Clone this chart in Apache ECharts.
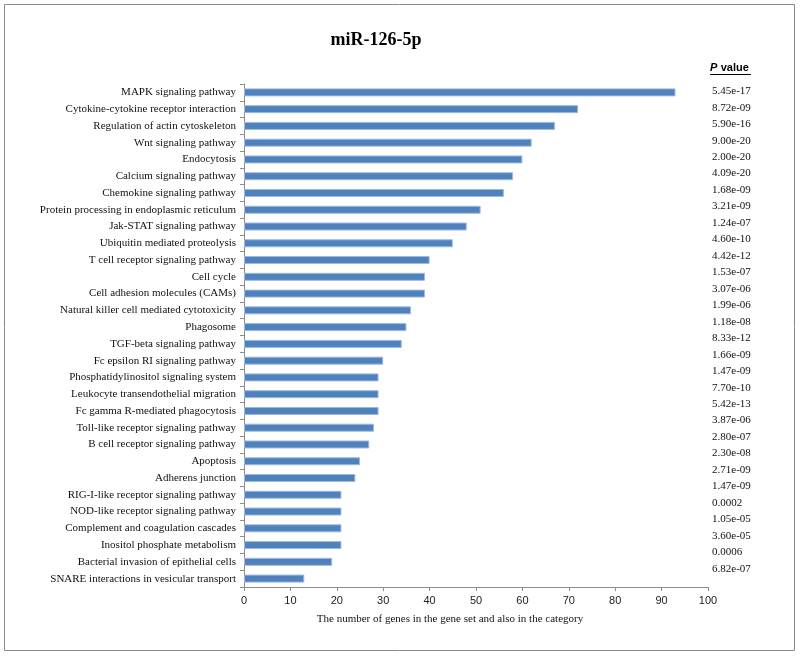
<!DOCTYPE html>
<html><head><meta charset="utf-8">
<script src="https://cdn.jsdelivr.net/npm/echarts@6/dist/echarts.min.js"></script>
<style>html,body{margin:0;padding:0;background:#fff}#c{width:800px;height:659px}</style>
</head><body><div id="c"></div>
<script>
var categories = ["MAPK signaling pathway","Cytokine-cytokine receptor interaction","Regulation of actin cytoskeleton","Wnt signaling pathway","Endocytosis","Calcium signaling pathway","Chemokine signaling pathway","Protein processing in endoplasmic reticulum","Jak-STAT signaling pathway","Ubiquitin mediated proteolysis","T cell receptor signaling pathway","Cell cycle","Cell adhesion molecules (CAMs)","Natural killer cell mediated cytotoxicity","Phagosome","TGF-beta signaling pathway","Fc epsilon RI signaling pathway","Phosphatidylinositol signaling system","Leukocyte transendothelial migration","Fc gamma R-mediated phagocytosis","Toll-like receptor signaling pathway","B cell receptor signaling pathway","Apoptosis","Adherens junction","RIG-I-like receptor signaling pathway","NOD-like receptor signaling pathway","Complement and coagulation cascades","Inositol phosphate metabolism","Bacterial invasion of epithelial cells","SNARE interactions in vesicular transport"];
var geneCounts = [93,72,67,62,60,58,56,51,48,45,40,39,39,36,35,34,30,29,29,29,28,27,25,24,21,21,21,21,19,13];
var pValues = ["5.45e-17","8.72e-09","5.90e-16","9.00e-20","2.00e-20","4.09e-20","1.68e-09","3.21e-09","1.24e-07","4.60e-10","4.42e-12","1.53e-07","3.07e-06","1.99e-06","1.18e-08","8.33e-12","1.66e-09","1.47e-09","7.70e-10","5.42e-13","3.87e-06","2.80e-07","2.30e-08","2.71e-09","1.47e-09","0.0002","1.05e-05","3.60e-05","0.0006","6.82e-07"];
var titleText = "miR-126-5p";
var xAxisTitle = "The number of genes in the gene set and also in the category";

var chart = echarts.init(document.getElementById('c'), null, {renderer:'canvas'});
var serif = '"Liberation Serif","Times New Roman",serif';
var sans = '"Liberation Sans",Arial,sans-serif';
chart.setOption({
  animation:false,
  backgroundColor:'#fff',
  grid:[
    {left:244, top:84, width:464, height:503, containLabel:false},
    {left:710, top:83, width:60, height:494, containLabel:false}
  ],
  xAxis:[
    {gridIndex:0, type:'value', min:0, max:100, interval:10,
     axisLine:{show:true, lineStyle:{color:'#8c8c8c'}},
     axisTick:{show:true, length:4, lineStyle:{color:'#8c8c8c'}},
     axisLabel:{color:'#222', fontFamily:sans, fontSize:11, margin:8},
     splitLine:{show:false}},
    {gridIndex:1, type:'value', show:false, min:0, max:1}
  ],
  yAxis:[
    {gridIndex:0, type:'category', data:categories, inverse:true,
     axisLine:{show:true, lineStyle:{color:'#8c8c8c'}},
     axisTick:{show:true, length:4, lineStyle:{color:'#8c8c8c'}},
     axisLabel:{color:'#111', fontFamily:serif, fontSize:11, margin:8, interval:0}},
    {gridIndex:1, type:'category', data:pValues, inverse:true,
     axisLine:{show:false}, axisTick:{show:false},
     axisLabel:{inside:true, margin:2, color:'#111', fontFamily:serif, fontSize:11, interval:0}}
  ],
  series:[
    {type:'bar', xAxisIndex:0, yAxisIndex:0, data:geneCounts, barWidth:8,
     itemStyle:{color:'#4F81BD', borderColor:'#9DB9DE', borderWidth:1}},
    {type:'bar', xAxisIndex:1, yAxisIndex:1, data:pValues.map(function(){return 0;}), silent:true}
  ],
  graphic:[
    {type:'rect', shape:{x:4.5, y:4.5, width:790, height:646}, style:{fill:'none', stroke:'#8a8a8a', lineWidth:1}, silent:true},
    {type:'text', x:376, y:40, style:{text:titleText, font:'bold 18px '+serif, fill:'#000', textAlign:'center', textVerticalAlign:'middle'}},
    {type:'text', x:710, y:68, style:{text:'{i|P} {b|value}', textVerticalAlign:'middle', rich:{i:{fontFamily:sans, fontSize:11, fontWeight:'bold', fontStyle:'italic', fill:'#000'}, b:{fontFamily:sans, fontSize:11, fontWeight:'bold', fill:'#000'}}}},
    {type:'line', shape:{x1:710, y1:74.5, x2:751, y2:74.5}, style:{stroke:'#000', lineWidth:1}},
    {type:'text', x:450, y:619, style:{text:xAxisTitle, font:'11px '+serif, fill:'#111', textAlign:'center', textVerticalAlign:'middle'}}
  ]
});
</script></body></html>
